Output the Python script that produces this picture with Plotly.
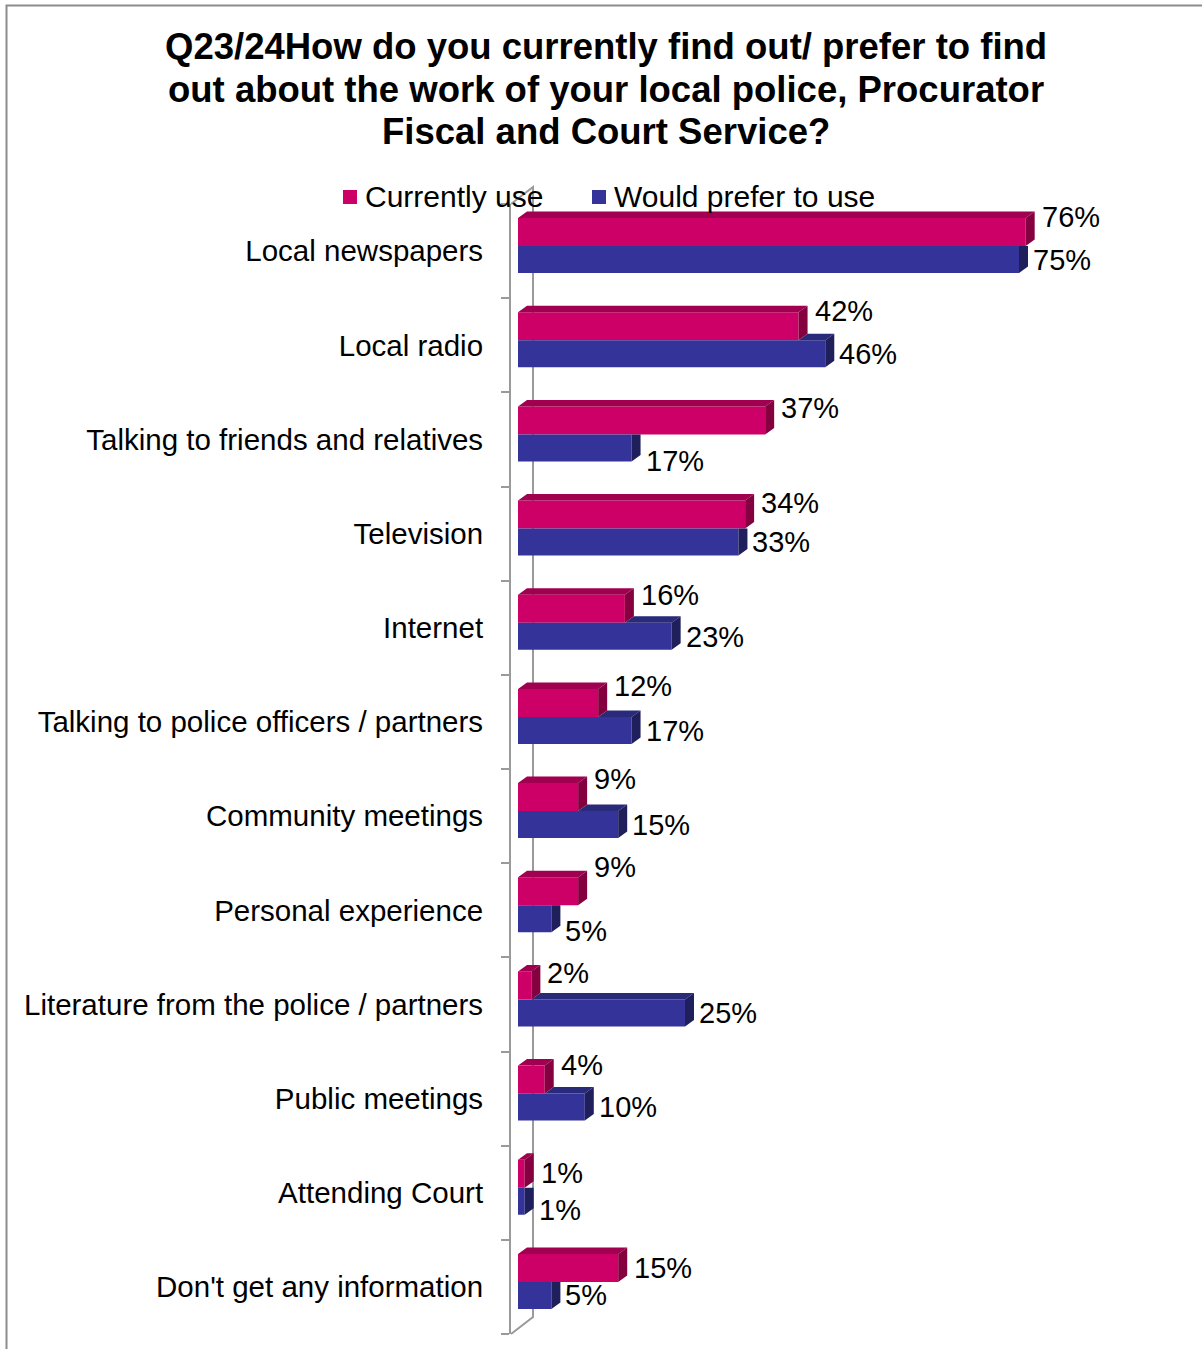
import plotly.graph_objects as go

# ---- data -------------------------------------------------------------
CATEGORIES = [
    "Local newspapers",
    "Local radio",
    "Talking to friends and relatives",
    "Television",
    "Internet",
    "Talking to police officers / partners",
    "Community meetings",
    "Personal experience",
    "Literature from the police / partners",
    "Public meetings",
    "Attending Court",
    "Don't get any information",
]
CURRENTLY_USE = [76, 42, 37, 34, 16, 12, 9, 9, 2, 4, 1, 15]
PREFER_TO_USE = [75, 46, 17, 33, 23, 17, 15, 5, 25, 10, 1, 5]
SERIES_NAMES = ["Currently use", "Would prefer to use"]
TITLE_LINES = [
    "Q23/24How do you currently find out/ prefer to find",
    "out about the work of your local police, Procurator",
    "Fiscal and Court Service?",
]

# ---- styling ----------------------------------------------------------
PINK, PINK_TOP, PINK_SIDE = "#CC0066", "#A0004F", "#85003F"
BLUE, BLUE_TOP, BLUE_SIDE = "#333399", "#2A2A7A", "#1F1F5C"
AXIS_GREY = "#9A9A9A"
FONT = "Liberation Sans, Arial, sans-serif"

# label nudges in screen px (+ = down), keeps data labels clear of neighbours
PINK_LABEL_NUDGE = [-15, -15, -12, -12, -14, -17, -18, -24, -12, -15, -1, 0]
BLUE_LABEL_NUDGE = [0, 0, 13, 0, 1, 1, 0, 12, 0, 0, 9, 0]

# ---- geometry (px) ----------------------------------------------------
W, H = 1202, 1349
PLOT_L, PLOT_R, PLOT_T, PLOT_B = 511, 1200, 204, 1334
PX_PER_PCT = 6.68
N = len(CATEGORIES)
CAT_PX = (PLOT_B - PLOT_T) / N

X_LO = -7 / PX_PER_PCT                      # bars sit 7px behind the front plane
X_HI = X_LO + (PLOT_R - PLOT_L) / PX_PER_PCT
SHIFT = 5 / CAT_PX                          # bars sit 5px above the front plane
W_PINK = 28 / CAT_PX
W_BLUE = 27 / CAT_PX
DX = 9 / PX_PER_PCT                         # bar depth, horizontal
DY = 6.5 / CAT_PX                           # bar depth, vertical


def px_x(px):
    return (px - PLOT_L) / (PLOT_R - PLOT_L)


def px_y(py):
    return (PLOT_B - py) / (PLOT_B - PLOT_T)


idx = list(range(N))
fig = go.Figure()

# front faces
fig.add_trace(go.Bar(
    y=idx, x=CURRENTLY_USE, orientation="h", name=SERIES_NAMES[0],
    marker=dict(color=PINK, line=dict(width=0)),
    offset=-SHIFT - W_PINK, width=W_PINK, showlegend=False, hoverinfo="skip",
))
fig.add_trace(go.Bar(
    y=idx, x=PREFER_TO_USE, orientation="h", name=SERIES_NAMES[1],
    marker=dict(color=BLUE, line=dict(width=0)),
    offset=-SHIFT, width=W_BLUE, showlegend=False, hoverinfo="skip",
))

# depth faces
faces = {"pt": ([], []), "ps": ([], []), "bt": ([], []), "bs": ([], [])}


def add_poly(key, pts):
    xs, ys = faces[key]
    for x, y in pts:
        xs.append(x)
        ys.append(y)
    xs.append(None)
    ys.append(None)


for i, (p, b) in enumerate(zip(CURRENTLY_USE, PREFER_TO_USE)):
    base = i - SHIFT
    ptop = base - W_PINK
    btm = base + W_BLUE
    add_poly("pt", [(0, ptop), (p, ptop), (p + DX, ptop - DY), (DX, ptop - DY)])
    add_poly("ps", [(p, ptop), (p + DX, ptop - DY), (p + DX, base - DY), (p, base)])
    if b > p:
        add_poly("bt", [(p, base), (b, base), (b + DX, base - DY), (p + DX, base - DY)])
        add_poly("bs", [(b, base), (b + DX, base - DY), (b + DX, btm - DY), (b, btm)])
    else:
        add_poly("bs", [(b, base), (b + DX, base), (b + DX, btm - DY), (b, btm)])

for key, col in [("bt", BLUE_TOP), ("bs", BLUE_SIDE), ("pt", PINK_TOP), ("ps", PINK_SIDE)]:
    xs, ys = faces[key]
    fig.add_trace(go.Scatter(
        x=xs, y=ys, mode="lines", fill="toself", fillcolor=col,
        line=dict(width=0, color=col), showlegend=False, hoverinfo="skip",
    ))

# value labels
annotations = []
for i, (p, b) in enumerate(zip(CURRENTLY_USE, PREFER_TO_USE)):
    base = i - SHIFT
    annotations.append(dict(
        x=p, y=base - W_PINK / 2, xref="x", yref="y", text=f"{p}%",
        showarrow=False, xanchor="left", yanchor="middle",
        xshift=9 + 5, yshift=-PINK_LABEL_NUDGE[i],
        font=dict(family=FONT, size=29, color="black"),
    ))
    annotations.append(dict(
        x=b, y=base + W_BLUE / 2, xref="x", yref="y", text=f"{b}%",
        showarrow=False, xanchor="left", yanchor="middle",
        xshift=9 + 3, yshift=-BLUE_LABEL_NUDGE[i],
        font=dict(family=FONT, size=29, color="black"),
    ))

# title, one line per annotation
for line, cy in zip(TITLE_LINES, [47, 90, 132]):
    annotations.append(dict(
        x=px_x(606), y=px_y(cy), xref="paper", yref="paper", text=f"<b>{line}</b>",
        showarrow=False, xanchor="center", yanchor="middle",
        font=dict(family=FONT, size=36.5, color="black"),
    ))

# legend
shapes = []
for name, col, sq_x in [(SERIES_NAMES[0], PINK, 343), (SERIES_NAMES[1], BLUE, 592)]:
    shapes.append(dict(
        type="rect", xref="paper", yref="paper",
        x0=px_x(sq_x), x1=px_x(sq_x + 14), y0=px_y(190), y1=px_y(204),
        fillcolor=col, line=dict(width=0),
    ))
    annotations.append(dict(
        x=px_x(sq_x + 20), y=px_y(197), xref="paper", yref="paper", text=name,
        showarrow=False, xanchor="left", yanchor="middle",
        font=dict(family=FONT, size=30, color="black"),
    ))

# back wall edge of the 3-D frame
shapes.append(dict(
    type="path", xref="paper", yref="paper", layer="below",
    path=(f"M {px_x(511)},{px_y(204)} L {px_x(533)},{px_y(187)} "
          f"L {px_x(533)},{px_y(1317)} L {px_x(511)},{px_y(1334)}"),
    line=dict(color=AXIS_GREY, width=2),
))

# chart border
shapes.append(dict(
    type="path", xref="paper", yref="paper",
    path=(f"M {px_x(6.5)},{px_y(1349)} L {px_x(6.5)},{px_y(5.5)} L {px_x(1202)},{px_y(5.5)}"),
    line=dict(color="#8C8C8C", width=2),
))

fig.update_layout(
    width=W, height=H,
    margin=dict(l=PLOT_L, r=W - PLOT_R, t=PLOT_T, b=H - PLOT_B),
    paper_bgcolor="white", plot_bgcolor="white",
    barmode="overlay",
    showlegend=False,
    annotations=annotations,
    shapes=shapes,
    xaxis=dict(range=[X_LO, X_HI], visible=False, fixedrange=True),
    yaxis=dict(
        range=[N - 0.5, -0.5], tickmode="array", tickvals=idx, ticktext=CATEGORIES,
        ticks="", showgrid=False, zeroline=False,
        showline=True, linecolor=AXIS_GREY, linewidth=2,
        tickfont=dict(family=FONT, size=29.5, color="black"),
        ticklabelstandoff=20,
        minor=dict(tickmode="array", tickvals=[k + 0.5 for k in range(-1, N)],
                   ticks="outside", ticklen=8, tickcolor=AXIS_GREY, tickwidth=2),
        fixedrange=True,
    ),
)

fig.write_html("out.html")
